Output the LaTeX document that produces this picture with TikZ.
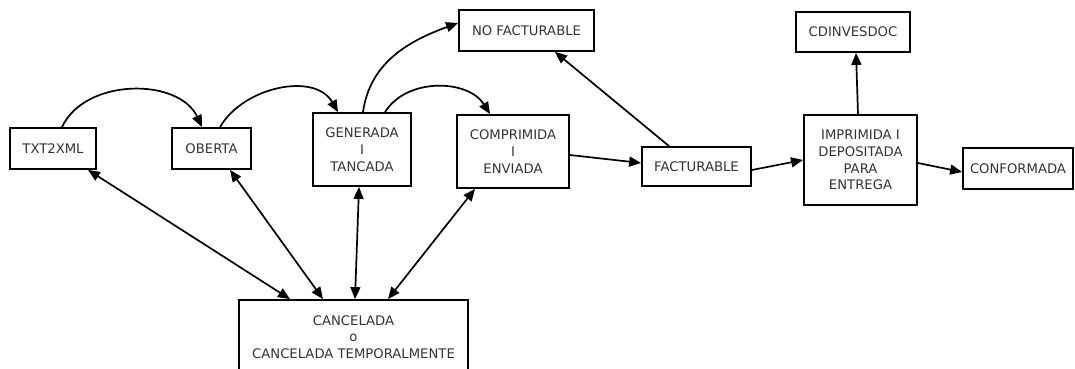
\documentclass[tikz,border=0pt]{standalone}
\usepackage{fontspec}
\setmainfont{DejaVu Sans}
\usetikzlibrary{arrows.meta,calc}
\tikzset{
  state/.style={draw, line width=1.8pt, align=center, inner sep=0pt,
    font=\fontsize{13.2}{16.7}\selectfont, text=black!80},
  arr/.style={line width=1.7pt, -{Triangle[length=12pt,width=10pt]}},
  darr/.style={line width=1.7pt, {Triangle[length=12pt,width=10pt]}-{Triangle[length=12pt,width=10pt]}},
}
\begin{document}
\begin{tikzpicture}[x=1pt,y=1pt]
\useasboundingbox (0,0) rectangle (1075,369);
\node[state, minimum width=86pt, minimum height=41pt] (txt) at (53,220.5) {TXT2XML};
\node[state, minimum width=79pt, minimum height=41pt] (obe) at (211.5,220.5) {OBERTA};
\node[state, minimum width=98pt, minimum height=73pt] (gen) at (362,219.5) {GENERADA\\I\\TANCADA};
\node[state, minimum width=112pt, minimum height=73pt] (com) at (513,217.5) {COMPRIMIDA\\I\\ENVIADA};
\node[state, minimum width=135pt, minimum height=41pt] (nof) at (526.5,338.5) {NO FACTURABLE};
\node[state, minimum width=109pt, minimum height=39pt] (fac) at (696.5,202.5) {FACTURABLE};
\node[state, minimum width=113pt, minimum height=90pt] (imp) at (860.5,209) {IMPRIMIDA I\\DEPOSITADA\\PARA\\ENTREGA};
\node[state, minimum width=114pt, minimum height=40pt] (cdi) at (853,337) {CDINVESDOC};
\node[state, minimum width=110pt, minimum height=41pt] (con) at (1018,200.5) {CONFORMADA};
\node[state, minimum width=229pt, minimum height=74pt] (can) at (353.5,32) {CANCELADA\\o\\CANCELADA TEMPORALMENTE};

\draw[arr] ($(txt.north)+(9,0)$) to[out=65,in=115] ($(obe.north)+(-9.5,0)$);
\draw[arr] ($(obe.north)+(8.5,0)$) to[out=60,in=120] ($(gen.north)+(-24,0)$);
\draw[arr] ($(gen.north)+(23,0)$) to[out=58,in=122] ($(com.north)+(-23,0)$);
\draw[arr] ($(gen.north)+(1,0)$) to[out=82,in=200] ($(nof.west)+(0,7.5)$);
\draw[arr] ($(fac.north)+(-27.5,0)$) -- ($(nof.south)+(28.5,0)$);
\draw[arr] ($(com.east)+(0,-3.5)$) -- ($(fac.west)+(0,3.5)$);
\draw[arr] ($(fac.east)+(0,-3.5)$) -- (imp.west);
\draw[arr] ($(imp.north)+(-2.5,0)$) -- ($(cdi.south)+(3,0)$);
\draw[arr] ($(imp.east)+(0,-3)$) -- ($(con.west)+(0,-3.5)$);

\draw[darr] ($(txt.south)+(35,0)$) -- ($(can.north)+(-63.5,0)$);
\draw[darr] ($(obe.south)+(18.5,0)$) -- ($(can.north)+(-30.5,0)$);
\draw[darr] ($(gen.south)+(-3,0)$) -- ($(can.north)+(1.5,0)$);
\draw[darr] ($(com.south)+(-38,0)$) -- ($(can.north)+(34.5,0)$);
\end{tikzpicture}
\end{document}
